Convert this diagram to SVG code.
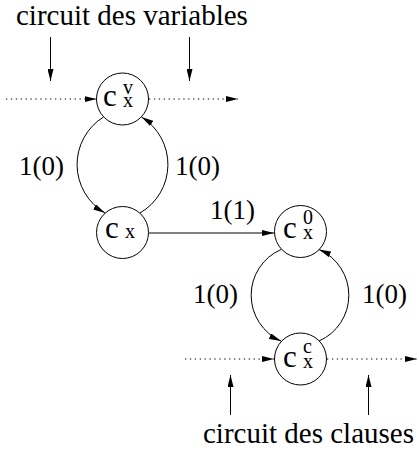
<svg xmlns="http://www.w3.org/2000/svg" width="419" height="453" viewBox="0 0 419 453">
  <defs>
    <marker id="arrow" markerUnits="userSpaceOnUse" markerWidth="12" markerHeight="6" refX="12" refY="3" orient="auto">
      <path d="M0,0 L12,3 L0,6 z" fill="#000"/>
    </marker>
    <style>
      text { font-family: "Liberation Serif", "Times New Roman", serif; fill: #000; }
      .title { font-size: 29px; }
      .lbl { font-size: 27px; }
      .c { font-size: 31px; }
      .sub { font-size: 20px; }
      .sup { font-size: 20px; }
      .node circle { fill: #fff; stroke: #000; stroke-width: 1; }
      .edge { fill: none; stroke: #000; stroke-width: 1; marker-end: url(#arrow); }
      .dot { stroke-dasharray: 1.3 3.6; }
    </style>
  </defs>
  <rect width="419" height="453" fill="#fff"/>

  <!-- circuit captions -->
  <g id="captions">
    <text class="title" x="16" y="25">circuit des variables</text>
    <text class="title" x="203" y="443">circuit des clauses</text>
  </g>

  <!-- connectors -->
  <g id="connectors">
    <!-- variable circuit feed -->
    <path class="edge" d="M50.5 37 L50.5 81"/>
    <path class="edge" d="M189.5 37 L189.5 81"/>
    <path class="edge dot" d="M6 99 L96.5 99"/>
    <path class="edge dot" d="M149 99 L238 99"/>
    <!-- loop between c^v_x and c_x -->
    <path class="edge" d="M103.5 117 A56 56 0 0 0 105 213"/>
    <path class="edge" d="M140 213 A56 56 0 0 0 141.5 117"/>
    <!-- c_x to c^0_x -->
    <path class="edge" d="M149 233 L274 233"/>
    <!-- loop between c^0_x and c^c_x -->
    <path class="edge" d="M281 249.5 A50 50 0 0 0 281 341"/>
    <path class="edge" d="M319 341 A50 50 0 0 0 319 249.5"/>
    <!-- clause circuit feed -->
    <path class="edge dot" d="M185 359 L274 359"/>
    <path class="edge dot" d="M327 359 L417 359"/>
    <path class="edge" d="M230.5 415 L230.5 375"/>
    <path class="edge" d="M368.5 415 L368.5 375"/>
  </g>

  <!-- edge labels -->
  <g id="edge-labels">
    <text class="lbl" x="19" y="175">1(0)</text>
    <text class="lbl" x="175" y="175">1(0)</text>
    <text class="lbl" x="210" y="219">1(1)</text>
    <text class="lbl" x="193" y="303">1(0)</text>
    <text class="lbl" x="362" y="303">1(0)</text>
  </g>

  <!-- nodes: c with stacked superscript / subscript -->
  <g id="node-cvx" class="node">
    <circle cx="122.5" cy="99" r="26"/>
    <text x="103" y="106"><tspan class="c">c</tspan><tspan class="sup" x="123" y="94">v</tspan><tspan class="sub" x="123" y="107">x</tspan></text>
  </g>
  <g id="node-cx" class="node">
    <circle cx="122.5" cy="232.5" r="26"/>
    <text x="105" y="238"><tspan class="c">c</tspan><tspan class="sub" x="125" y="238">x</tspan></text>
  </g>
  <g id="node-c0x" class="node">
    <circle cx="300.5" cy="231.5" r="26"/>
    <text x="283" y="238"><tspan class="c">c</tspan><tspan class="sup" x="303" y="224">0</tspan><tspan class="sub" x="303" y="239">x</tspan></text>
  </g>
  <g id="node-ccx" class="node">
    <circle cx="300.5" cy="359" r="26"/>
    <text x="283" y="367"><tspan class="c">c</tspan><tspan class="sup" x="303" y="353">c</tspan><tspan class="sub" x="303" y="368">x</tspan></text>
  </g>
</svg>
